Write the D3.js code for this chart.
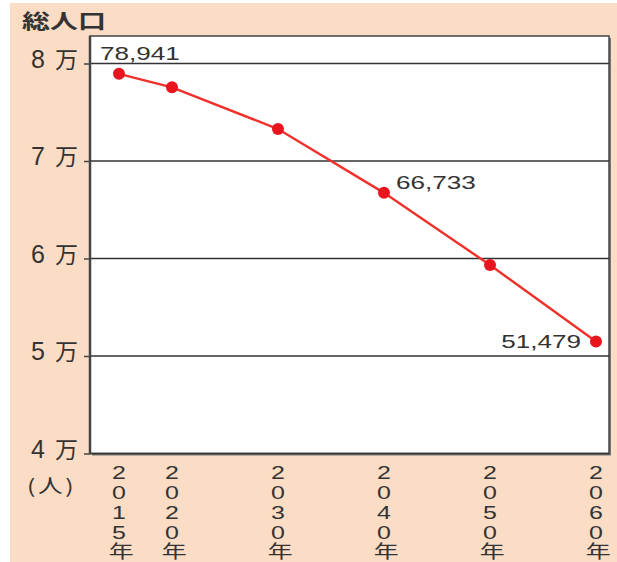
<!DOCTYPE html>
<html>
<head>
<meta charset="utf-8">
<script src="https://cdn.jsdelivr.net/npm/d3@7"></script>
<style>
  body { margin: 0; background: #fff; }
  text { font-family: "Noto Sans CJK JP", "Noto Sans", sans-serif; fill: #333; }
  .num { font-family: "Liberation Sans", Arial, sans-serif; }
  .vert { writing-mode: vertical-rl; text-orientation: upright; font-family: "Liberation Sans", "Noto Sans CJK JP", sans-serif; }
</style>
</head>
<body>
<svg id="chart" width="617" height="562"></svg>
<script>
const years = [2015, 2020, 2030, 2040, 2050, 2060];
const population = [78941, 77560, 73280, 66733, 59330, 51479];
const yTicks = [40000, 50000, 60000, 70000, 80000];
const yTickDigits = ['4', '5', '6', '7', '8'];
const labelled = { 2015: '78,941', 2040: '66,733', 2060: '51,479' };

const svg = d3.select('#chart');

// peach backdrop
svg.append('rect')
  .attr('x', 10).attr('y', 3).attr('width', 607).attr('height', 559)
  .attr('fill', '#fbdcc5');

const plotL = 90, plotR = 609, plotT = 36, plotB = 453.5;

const x = d3.scaleLinear().domain([2015, 2060]).range([119, 596]);
const y = d3.scaleLinear().domain([40000, 80000]).range([plotB, 63.5]);

// stretched text helper (the source artwork is wide-set)
function wideText(g, tx, ty, str, size, sx, anchor) {
  return g.append('text')
    .attr('transform', `translate(${tx},${ty}) scale(${sx},1)`)
    .attr('text-anchor', anchor || 'start')
    .style('font-size', size + 'px')
    .text(str);
}

// plot area with a bit of shadow on right/bottom
svg.append('rect')
  .attr('x', plotL + 2).attr('y', plotT + 2).attr('width', plotR - plotL).attr('height', plotB - plotT)
  .attr('fill', '#777');
svg.append('rect')
  .attr('x', plotL).attr('y', plotT).attr('width', plotR - plotL).attr('height', plotB - plotT)
  .attr('fill', '#fff').attr('stroke', '#444').attr('stroke-width', 1.5);

// gridlines
svg.append('g')
  .selectAll('line')
  .data(yTicks)
  .enter()
  .append('line')
  .attr('x1', plotL).attr('x2', plotR)
  .attr('y1', d => y(d)).attr('y2', d => y(d))
  .attr('stroke', '#333').attr('stroke-width', 1.5);

// y axis
const yAxis = svg.append('g')
  .attr('transform', `translate(${plotL},0)`)
  .call(d3.axisLeft(y).tickValues(yTicks).tickSize(6).tickFormat(''));
yAxis.select('.domain').attr('stroke', '#444').attr('stroke-width', 2.5)
  .attr('d', `M0,${plotT}V${plotB}`);
yAxis.selectAll('.tick line').attr('stroke', '#444').attr('stroke-width', 1.5);

// tick labels: "8 万"
yAxis.selectAll('.tick').each(function (d, i) {
  const t = d3.select(this).append('text')
    .attr('x', -12).attr('y', 0)
    .attr('dy', '0.38em')
    .attr('text-anchor', 'end')
    .attr('fill', '#333');
  t.append('tspan').attr('class', 'num').style('font-size', '25px').text(yTickDigits[i]);
  t.append('tspan').attr('dx', 10).style('font-size', '23px').text('万');
});

wideText(svg, 22, 29, '総人口', 20, 1.4).style('font-weight', 'bold');

wideText(svg, 27, 493, '(人)', 19, 1.3).style('letter-spacing', '2px');

// vertical year labels, one text per year
years.forEach(yr => {
  svg.append('text')
    .attr('class', 'vert')
    .attr('transform', `translate(${x(yr)},462) scale(1.35,1)`)
    .attr('x', 0).attr('y', 0)
    .style('font-size', '18.5px')
    .style('letter-spacing', '-1px')
    .text(String(yr) + '年');
});

// line
const pts = years.map((yr, i) => [yr, population[i]]);
svg.append('path')
  .datum(pts)
  .attr('fill', 'none')
  .attr('stroke', '#f0302a')
  .attr('stroke-width', 2.4)
  .attr('d', d3.line().x(d => x(d[0])).y(d => y(d[1])));

svg.append('g')
  .selectAll('circle')
  .data(pts)
  .enter()
  .append('circle')
  .attr('cx', d => x(d[0])).attr('cy', d => y(d[1]))
  .attr('r', 6)
  .attr('fill', '#e8141e');

// value labels
const labelPos = {
  2015: { dx: -19, dy: -14, anchor: 'start' },
  2040: { dx: 12, dy: -4, anchor: 'start' },
  2060: { dx: -15, dy: 6, anchor: 'end' }
};
pts.filter(d => labelled[d[0]]).forEach(d => {
  const p = labelPos[d[0]];
  wideText(svg, x(d[0]) + p.dx, y(d[1]) + p.dy, labelled[d[0]], 18, 1.45, p.anchor)
    .attr('class', 'num');
});
</script>
</body>
</html>
